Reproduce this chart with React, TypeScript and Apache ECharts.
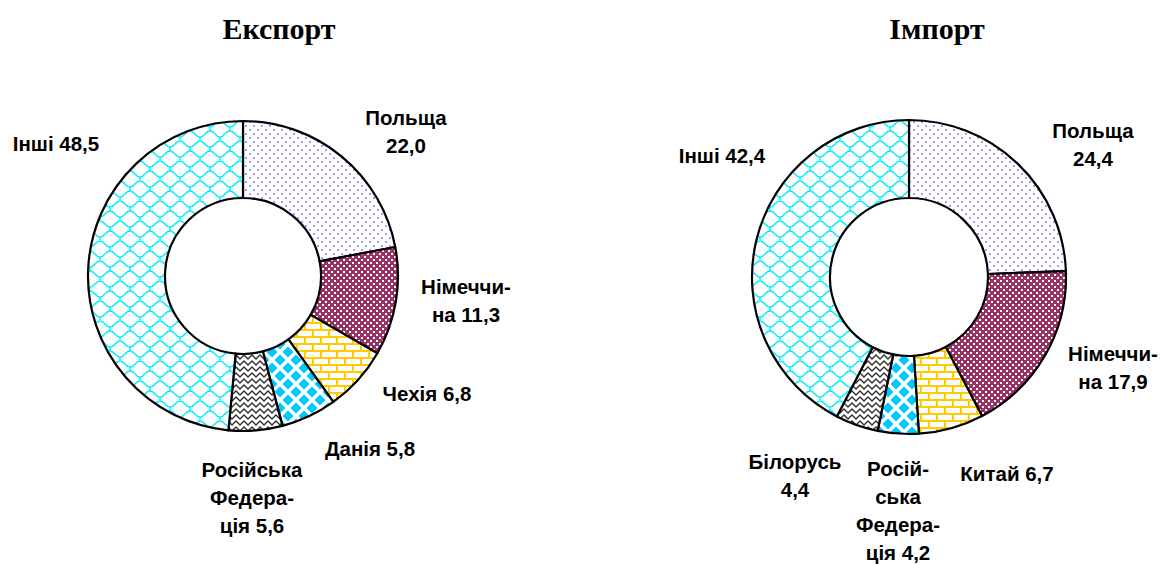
import React, { useEffect, useRef } from 'react';
import * as echarts from 'echarts';

// ---- data ----
const titles = ['Експорт', 'Імпорт'];
const exportCategories = ['Польща', 'Німеччина', 'Чехія', 'Данія', 'Російська Федерація', 'Інші'];
const exportValues = [22.0, 11.3, 6.8, 5.8, 5.6, 48.5];
const exportLabelNames = ['Польща\n', 'Німеччи-\nна ', 'Чехія ', 'Данія ', 'Російська\nФедера-\nція ', 'Інші '];
const importCategories = ['Польща', 'Німеччина', 'Китай', 'Російська Федерація', 'Білорусь', 'Інші'];
const importValues = [24.4, 17.9, 6.7, 4.2, 4.4, 42.4];
const importLabelNames = ['Польща\n', 'Німеччи-\nна ', 'Китай ', 'Росій-\nська\nФедера-\nція ', 'Білорусь\n', 'Інші '];

// ---- label placement (layout, not data) ----
const exportLabelPos: [number, number][] = [[406, 131], [466, 300], [427, 393], [370, 448], [252, 497], [56, 143]];
const importLabelPos: [number, number][] = [[1093, 144], [1113, 367], [1007, 473], [898, 510], [795, 475], [722, 155]];

function makeCanvas(w: number, h: number, draw: (c: CanvasRenderingContext2D) => void) {
  const cv = document.createElement('canvas');
  cv.width = w;
  cv.height = h;
  const c = cv.getContext('2d')!;
  c.fillStyle = '#ffffff';
  c.fillRect(0, 0, w, h);
  draw(c);
  return { image: cv.toDataURL(), repeat: 'repeat', imageWidth: w, imageHeight: h } as any;
}

function dotsPattern() {
  return makeCanvas(8, 8, (c) => {
    c.fillStyle = '#9f9ff5';
    c.fillRect(1, 1, 2, 2);
    c.fillRect(5, 5, 2, 2);
  });
}
function checkPattern() {
  return makeCanvas(6, 6, (c) => {
    c.fillStyle = '#993366';
    c.fillRect(0, 0, 6, 6);
    c.fillStyle = '#ffffff';
    c.fillRect(1, 1, 2, 2);
    c.fillRect(4, 4, 2, 2);
  });
}
function brickPattern() {
  return makeCanvas(16, 14, (c) => {
    c.fillStyle = '#ffcc00';
    c.fillRect(0, 0, 16, 2);
    c.fillRect(0, 7, 16, 2);
    c.fillRect(0, 0, 2, 7);
    c.fillRect(8, 7, 2, 7);
  });
}
function diamondPattern() {
  return makeCanvas(16, 16, (c) => {
    c.fillStyle = '#00c8ff';
    const d = (x: number, y: number, r: number) => {
      c.beginPath();
      c.moveTo(x, y - r);
      c.lineTo(x + r, y);
      c.lineTo(x, y + r);
      c.lineTo(x - r, y);
      c.closePath();
      c.fill();
    };
    d(8, 8, 5.5);
    d(0, 0, 5.5);
    d(16, 0, 5.5);
    d(0, 16, 5.5);
    d(16, 16, 5.5);
  });
}
function zigzagPattern() {
  return makeCanvas(8, 6, (c) => {
    c.strokeStyle = '#333333';
    c.lineWidth = 1.4;
    c.beginPath();
    c.moveTo(-4, 1);
    c.lineTo(0, 5);
    c.lineTo(4, 1);
    c.lineTo(8, 5);
    c.lineTo(12, 1);
    c.stroke();
  });
}
function wavePattern() {
  return makeCanvas(20, 20, (c) => {
    c.strokeStyle = '#00f0ff';
    c.lineWidth = 1.5;
    const row = (y: number, off: number) => {
      c.beginPath();
      for (let k = -1; k <= 1; k++) {
        const x0 = off + k * 20;
        c.moveTo(x0, y);
        c.bezierCurveTo(x0 + 5, y, x0 + 5, y + 6, x0 + 10, y + 6);
        c.bezierCurveTo(x0 + 15, y + 6, x0 + 15, y, x0 + 20, y);
      }
      c.stroke();
      c.beginPath();
      for (let k = -1; k <= 1; k++) {
        const x0 = off + k * 20;
        c.moveTo(x0 + 10, y + 6);
        c.lineTo(x0 + 10, y + 10);
      }
      c.stroke();
    };
    row(1, 0);
    row(11, 10);
  });
}

const fmt = (v: number) => v.toFixed(1).replace('.', ',');

export default function App() {
  const ref = useRef<HTMLDivElement>(null);
  useEffect(() => {
    document.body.style.margin = '0';
    const chart = echarts.init(ref.current!, null, { renderer: 'svg' });
    const fills = [dotsPattern(), checkPattern(), brickPattern(), diamondPattern(), zigzagPattern(), wavePattern()];

    const makeSeries = (
      cats: string[],
      vals: number[],
      labels: string[],
      pos: [number, number][],
      center: [number, number],
      radius: [number, number]
    ) => ({
      type: 'pie',
      center,
      radius,
      startAngle: 90,
      clockwise: true,
      silent: true,
      avoidLabelOverlap: false,
      data: cats.map((n, i) => ({
        name: n,
        value: vals[i],
        itemStyle: { color: fills[i] },
        label: { formatter: labels[i] + fmt(vals[i]) },
      })),
      itemStyle: { borderColor: '#000', borderWidth: 2.2 },
      label: {
        show: true,
        position: 'outside',
        color: '#000',
        fontFamily: 'Liberation Sans, Arial, sans-serif',
        fontWeight: 'bold',
        fontSize: 20.5,
        lineHeight: 28,
        align: 'center',
        overflow: 'none',
      },
      labelLine: { show: false },
      labelLayout: (p: any) => ({
        x: pos[p.dataIndex][0],
        y: pos[p.dataIndex][1],
        align: 'center',
        verticalAlign: 'middle',
      }),
      emphasis: { disabled: true },
    });

    const titleStyle = { fontFamily: 'Liberation Serif, Times New Roman, serif', fontWeight: 'bold', fontSize: 30, color: '#000' };
    chart.setOption({
      animation: false,
      backgroundColor: '#ffffff',
      title: [
        { text: titles[0], left: 274, top: 8, textAlign: 'center', textStyle: titleStyle },
        { text: titles[1], left: 932, top: 8, textAlign: 'center', textStyle: titleStyle },
      ],
      series: [
        makeSeries(exportCategories, exportValues, exportLabelNames, exportLabelPos, [243, 276], [78, 155]),
        makeSeries(importCategories, importValues, importLabelNames, importLabelPos, [909, 277], [79, 157]),
      ],
    });
    return () => chart.dispose();
  }, []);
  return <div ref={ref} style={{ width: 1167, height: 565 }} />;
}
